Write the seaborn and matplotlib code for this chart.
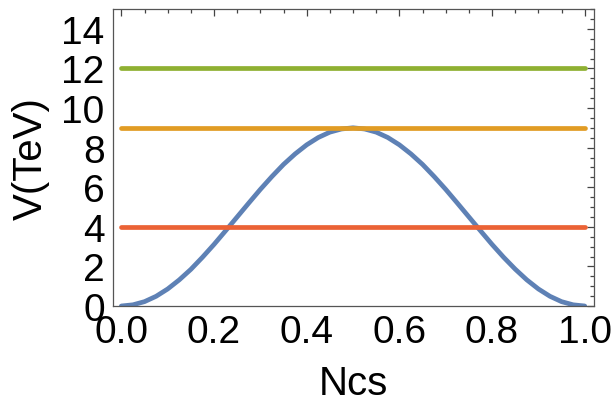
import numpy as np
import pandas as pd
import seaborn as sns
import matplotlib.pyplot as plt
from matplotlib.ticker import MultipleLocator

# potential curve
ncs = [0.0, 0.025, 0.05, 0.075, 0.1, 0.125, 0.15, 0.175, 0.2, 0.225, 0.25,
       0.275, 0.3, 0.325, 0.35, 0.375, 0.4, 0.425, 0.45, 0.475, 0.5,
       0.525, 0.55, 0.575, 0.6, 0.625, 0.65, 0.675, 0.7, 0.725, 0.75,
       0.775, 0.8, 0.825, 0.85, 0.875, 0.9, 0.925, 0.95, 0.975, 1.0]
v_tev = [0.0, 0.06, 0.22, 0.49, 0.86, 1.32, 1.85, 2.46, 3.11, 3.80, 4.5,
         5.20, 5.89, 6.54, 7.15, 7.68, 8.14, 8.51, 8.78, 8.94, 9.0,
         8.94, 8.78, 8.51, 8.14, 7.68, 7.15, 6.54, 5.89, 5.20, 4.5,
         3.80, 3.11, 2.46, 1.86, 1.32, 0.86, 0.49, 0.22, 0.06, 0.0]

# horizontal energy levels
level_x = [0.0, 1.0]
levels = [4.0, 9.0, 12.0]
level_colors = ["#EB6235", "#E19C24", "#8FB032"]
curve_color = "#5E81B5"

sns.set_style("white")
plt.rcParams["font.family"] = ["Liberation Sans", "DejaVu Sans"]

fig, ax = plt.subplots(figsize=(6.15, 4.1), dpi=100)
fig.subplots_adjust(left=113 / 615, right=594 / 615, bottom=1 - 307 / 410, top=1 - 10 / 410)

df = pd.DataFrame({"Ncs": ncs, "V": v_tev})
sns.lineplot(data=df, x="Ncs", y="V", ax=ax, color=curve_color, lw=3.4)
for lev, col in zip(levels, level_colors):
    sns.lineplot(x=level_x, y=[lev, lev], ax=ax, color=col, lw=3.4)

ax.set_xlim(-0.018, 1.02)
ax.set_ylim(0, 15)
ax.xaxis.set_minor_locator(MultipleLocator(0.05))
ax.yaxis.set_minor_locator(MultipleLocator(0.5))
ax.set_xticks(np.arange(0, 1.01, 0.2))
ax.set_xticklabels(["0.0", "0.2", "0.4", "0.6", "0.8", "1.0"])
ax.set_yticks(range(0, 15, 2))

ax.tick_params(which="both", direction="in", top=True, right=True,
               color="#444444", width=0.9, labelsize=28, labelcolor="black")
ax.tick_params(which="major", length=5, pad=6)
ax.tick_params(which="minor", length=3)
for s in ax.spines.values():
    s.set_color("#555555")
    s.set_linewidth(0.9)

ax.set_xlabel("Ncs", fontsize=29, labelpad=10, color="black")
ax.set_ylabel("V(TeV)", fontsize=29, labelpad=8, color="black")

fig.savefig("out.png", dpi=100)
